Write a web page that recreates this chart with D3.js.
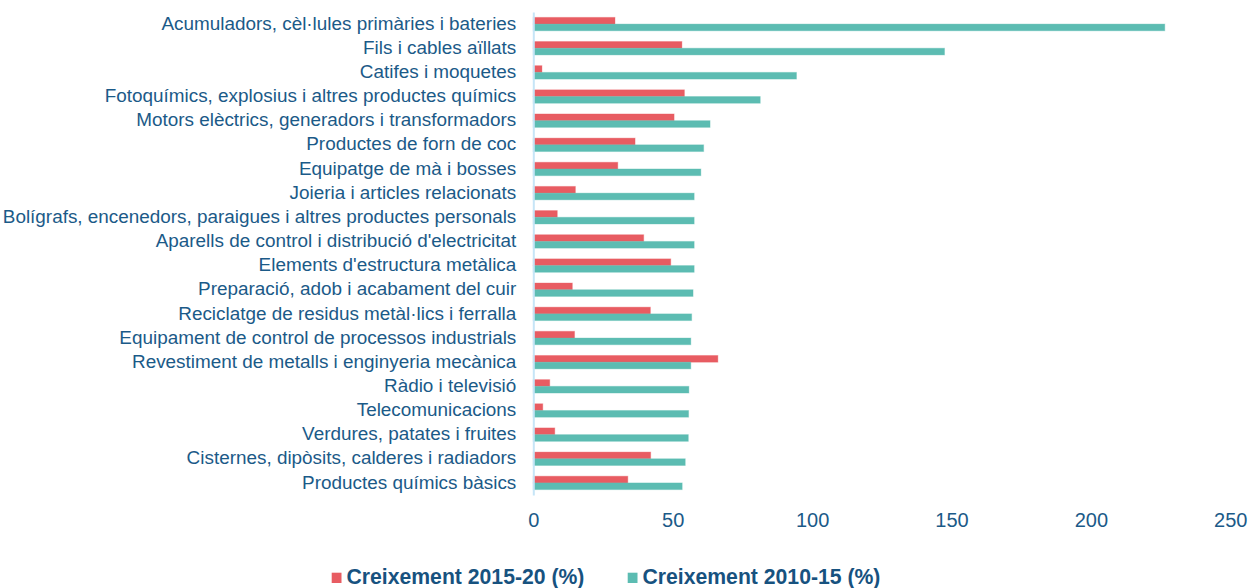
<!DOCTYPE html>
<html>
<head>
<meta charset="utf-8">
<script src="https://cdn.jsdelivr.net/npm/d3@7"></script>
<style>
  html, body { margin: 0; padding: 0; background: #ffffff; }
  svg { display: block; }
  text { font-family: "Liberation Sans", Arial, sans-serif; }
</style>
</head>
<body>
<svg id="chart" width="1249" height="588"></svg>
<script>
const categories = [
  "Acumuladors, cèl·lules primàries i bateries",
  "Fils i cables aïllats",
  "Catifes i moquetes",
  "Fotoquímics, explosius i altres productes químics",
  "Motors elèctrics, generadors i transformadors",
  "Productes de forn de coc",
  "Equipatge de mà i bosses",
  "Joieria i articles relacionats",
  "Bolígrafs, encenedors, paraigues i altres productes personals",
  "Aparells de control i distribució d'electricitat",
  "Elements d'estructura metàlica",
  "Preparació, adob i acabament del cuir",
  "Reciclatge de residus metàl·lics i ferralla",
  "Equipament de control de processos industrials",
  "Revestiment de metalls i enginyeria mecànica",
  "Ràdio i televisió",
  "Telecomunicacions",
  "Verdures, patates i fruites",
  "Cisternes, dipòsits, calderes i radiadors",
  "Productes químics bàsics"
];
const growth2015_20 = [29.3, 53.3, 3.1, 54.2, 50.5, 36.5, 30.3, 15.1, 8.6, 39.6, 49.3, 14.0, 42.0, 14.8, 66.2, 5.9, 3.4, 7.7, 42.1, 33.9];
const growth2010_15 = [226.5, 147.5, 94.4, 81.4, 63.4, 61.1, 60.1, 57.7, 57.7, 57.7, 57.7, 57.3, 56.8, 56.5, 56.5, 55.8, 55.7, 55.6, 54.5, 53.4];
const seriesNames = ["Creixement 2015-20 (%)", "Creixement 2010-15 (%)"];
const seriesColors = ["#E85C62", "#5CBCB2"];
const xTicks = [0, 50, 100, 150, 200, 250];

const svg = d3.select("#chart");
const textColor = "#1B5A88";

const x = d3.scaleLinear().domain([0, 250]).range([533.3, 1230.3]);
const y = d3.scaleBand().domain(categories).range([12, 495])
  .paddingInner(0.445).paddingOuter(0.2225);
const ySub = d3.scaleBand().domain([0, 1]).range([0, y.bandwidth()]);

const rows = categories.map((c, i) => ({ c, vals: [growth2015_20[i], growth2010_15[i]] }));

// bars
const g = svg.append("g");
rows.forEach(r => {
  r.vals.forEach((v, s) => {
    g.append("rect")
      .attr("x", x(0))
      .attr("y", y(r.c) + ySub(s))
      .attr("width", x(v) - x(0))
      .attr("height", ySub.bandwidth())
      .attr("fill", seriesColors[s])
      .attr("stroke", seriesColors[s])
      .attr("stroke-opacity", 0.35)
      .attr("stroke-width", 1);
  });
});

// category axis
const yAxis = svg.append("g")
  .attr("transform", `translate(${x(0)},0)`)
  .call(d3.axisLeft(y).tickSize(0).tickSizeOuter(0).tickPadding(17));
yAxis.select(".domain").attr("stroke", "#C6E5F7").attr("stroke-width", 2);
yAxis.selectAll("text")
  .attr("fill", textColor)
  .style("font-size", "18.9px")
  .attr("dy", "0.3em");

// value axis
const xAxis = svg.append("g")
  .attr("transform", "translate(0,505)")
  .call(d3.axisBottom(x).tickValues(xTicks).tickSize(0).tickPadding(0));
xAxis.select(".domain").remove();
xAxis.selectAll("text")
  .attr("fill", textColor)
  .style("font-size", "20px")
  .attr("dy", "21.8px");

// legend
const legendX = [331.7, 627.7];
seriesNames.forEach((name, i) => {
  svg.append("rect")
    .attr("x", legendX[i]).attr("y", 572.7)
    .attr("width", 9.8).attr("height", 10.3)
    .attr("fill", seriesColors[i]);
  svg.append("text")
    .attr("x", legendX[i] + 14.8).attr("y", 583.6)
    .attr("fill", "#17527F")
    .style("font-size", "21.2px")
    .style("font-weight", "bold")
    .text(name);
});
</script>
</body>
</html>
